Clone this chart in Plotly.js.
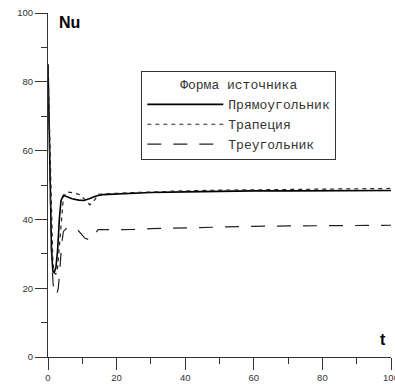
<!DOCTYPE html>
<html>
<head>
<meta charset="utf-8">
<script src="https://cdn.plot.ly/plotly-3.0.1.min.js"></script>
<style>html,body{margin:0;padding:0;background:#fff;}#chart{width:395px;height:385px;}</style>
</head>
<body>
<div id="chart"></div>
<script>
// Series names
const seriesNames = ["Прямоугольник", "Трапеция", "Треугольник"];
const legendTitle = "Форма источника";

// Прямоугольник (solid)
const tRect = [0, 0.3, 0.6, 1.0, 1.4, 1.8, 2.3, 2.8, 3.3, 3.8, 4.5, 5.5, 7, 9, 10.5, 12, 14, 16, 20, 25, 30, 40, 50, 60, 70, 80, 90, 100];
const nuRect = [85, 70, 50, 32, 25, 24.5, 26, 31, 40, 45.5, 47, 46.6, 46, 45.6, 45.5, 46, 46.8, 47.2, 47.4, 47.6, 47.8, 48, 48.2, 48.3, 48.3, 48.4, 48.4, 48.4];

// Трапеция (short dash)
const tTrap = [0, 0.3, 0.6, 1.0, 1.4, 1.8, 2.3, 2.8, 3.3, 3.8, 4.5, 5.5, 7, 9, 10.5, 12.2, 13.5, 14.7, 17, 20, 25, 30, 40, 50, 60, 70, 80, 90, 100];
const nuTrap = [85, 72, 55, 38, 28, 24.5, 24, 26, 32, 40, 46.5, 48, 47.8, 47.3, 46, 44.2, 45.5, 47.3, 47.5, 47.6, 47.8, 48, 48.3, 48.5, 48.6, 48.7, 48.8, 48.9, 49];

// Треугольник (long dash)
const tTri = [0, 0.3, 0.6, 1.0, 1.5, 2.0, 2.5, 3.0, 3.5, 4.0, 4.5, 5.5, 7, 8.7, 10.8, 12.2, 13.5, 14.6, 17, 21, 25, 30, 40, 50, 60, 70, 80, 90, 100];
const nuTri = [85, 70, 48, 30, 21, 18.5, 18, 20, 26, 33, 36.5, 37.5, 37.5, 36.9, 34.5, 34, 35.5, 37, 37, 37, 37.1, 37.3, 37.6, 37.9, 38, 38.1, 38.2, 38.2, 38.3];

// Axis ticks
const xTicks = [0, 20, 40, 60, 80, 100];
const yTicks = [0, 20, 40, 60, 80, 100];

const traces = [
  {x: tRect, y: nuRect, name: seriesNames[0], type: "scatter", mode: "lines",
   line: {color: "#000", width: 1.6, dash: "solid"}},
  {x: tTrap, y: nuTrap, name: seriesNames[1], type: "scatter", mode: "lines",
   line: {color: "#222", width: 1.2, dash: "4px,4px"}},
  {x: tTri, y: nuTri, name: seriesNames[2], type: "scatter", mode: "lines",
   line: {color: "#222", width: 1.2, dash: "14px,12px"}}
];

const monoFont = "Liberation Mono, Courier New, monospace";
const sansFont = "Liberation Sans, Arial, sans-serif";

const axisCommon = {
  showgrid: false, zeroline: false, showline: true, linecolor: "#333", linewidth: 1,
  ticks: "outside", ticklen: 12, tickcolor: "#333", tickwidth: 1,
  ticklabeloverflow: "allow",
  tickfont: {family: sansFont, size: 9.5, color: "#333"},
  minor: {dtick: 10, ticks: "outside", ticklen: 6, tickcolor: "#333", tickwidth: 1, showgrid: false}
};

const layout = {
  width: 395, height: 385,
  margin: {l: 48, r: 4, t: 12.5, b: 28},
  paper_bgcolor: "#fff", plot_bgcolor: "#fff",
  font: {family: sansFont},
  showlegend: true,
  xaxis: Object.assign({}, axisCommon, {range: [0, 100], tickvals: xTicks, ticktext: xTicks.map(String)}),
  yaxis: Object.assign({}, axisCommon, {range: [0, 100], tickvals: yTicks, ticktext: yTicks.map(String)}),
  legend: {
    x: 0.272, y: 0.83, xanchor: "left", yanchor: "top",
    bgcolor: "#fff", bordercolor: "#333", borderwidth: 1,
    font: {family: monoFont, size: 13, color: "#333"},
    title: {text: legendTitle, side: "top center", font: {family: monoFont, size: 13, color: "#333"}},
    itemwidth: 76, tracegroupgap: 0
  },
  annotations: [
    {xref: "paper", yref: "paper", x: 0.027, y: 1.004, xanchor: "left", yanchor: "top",
     text: "<b>Nu</b>", showarrow: false, font: {family: sansFont, size: 16, color: "#000"}},
    {xref: "paper", yref: "paper", x: 0.99, y: 0.02, xanchor: "right", yanchor: "bottom",
     text: "<b>t</b>", showarrow: false, font: {family: sansFont, size: 16, color: "#000"}}
  ]
};

Plotly.newPlot("chart", traces, layout, {displayModeBar: false, staticPlot: true});
</script>
</body>
</html>
